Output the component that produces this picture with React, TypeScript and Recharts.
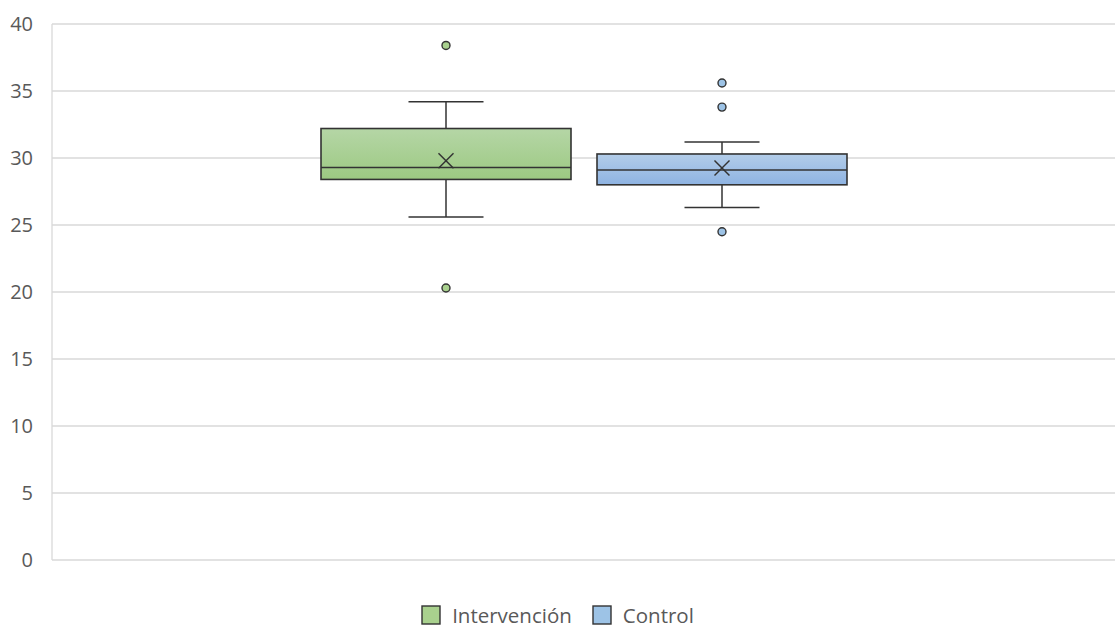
import React from 'react';
import { ComposedChart, Bar, XAxis, YAxis, CartesianGrid, Legend } from 'recharts';

const groups = ['Intervención', 'Control'];
const q1 = [28.4, 28.0];
const q3 = [32.2, 30.3];
const medians = [29.3, 29.1];
const means = [29.8, 29.25];
const whiskerLow = [25.6, 26.3];
const whiskerHigh = [34.2, 31.2];
const outliers = [
    [38.4, 20.3],
    [35.6, 33.8, 24.5],
];
const yTicks = [0, 5, 10, 15, 20, 25, 30, 35, 40];

const fills = ['url(#gradGreen)', 'url(#gradBlue)'];
const dotFills = ['#a9d18e', '#9dc3e6'];

// one category row, each group is a range bar q1..q3
const data = [
    groups.reduce((row: any, g, i) => {
        row[g] = [q1[i], q3[i]];
        return row;
    }, { name: '' }),
];

const font = '"Open Sans", sans-serif';
const dark = '#333333';

function BoxShape(props: any) {
    const { x, y, width, height, idx } = props;
    const top = Math.min(y, y + height);
    const h = Math.abs(height);
    const bottom = top + h;
    // pixels per unit, taken from the bar the library drew
    const k = h / (q3[idx] - q1[idx]);
    const py = (v: number) => bottom - (v - q1[idx]) * k;
    const cx = x + width / 2;
    const cap = width * 0.15;
    const m = 7.5;
    const my = py(means[idx]);
    return (
        <g>
            <line x1={cx} x2={cx} y1={py(whiskerHigh[idx])} y2={top} stroke={dark} strokeWidth={1.5} />
            <line x1={cx} x2={cx} y1={bottom} y2={py(whiskerLow[idx])} stroke={dark} strokeWidth={1.5} />
            <line x1={cx - cap} x2={cx + cap} y1={py(whiskerHigh[idx])} y2={py(whiskerHigh[idx])} stroke={dark} strokeWidth={1.5} />
            <line x1={cx - cap} x2={cx + cap} y1={py(whiskerLow[idx])} y2={py(whiskerLow[idx])} stroke={dark} strokeWidth={1.5} />
            <rect x={x} y={top} width={width} height={h} fill={fills[idx]} stroke={dark} strokeWidth={1.6} />
            <line x1={x} x2={x + width} y1={py(medians[idx])} y2={py(medians[idx])} stroke={dark} strokeWidth={1.5} />
            <line x1={cx - m} x2={cx + m} y1={my - m} y2={my + m} stroke={dark} strokeWidth={1.5} />
            <line x1={cx - m} x2={cx + m} y1={my + m} y2={my - m} stroke={dark} strokeWidth={1.5} />
            {outliers[idx].map((v, j) => (
                <circle key={j} cx={cx} cy={py(v)} r={4} fill={dotFills[idx]} stroke={dark} strokeWidth={1.4} />
            ))}
        </g>
    );
}

function LegendContent() {
    return (
        <div style={{ height: 68, display: 'flex', justifyContent: 'center', alignItems: 'flex-end', paddingBottom: 2, boxSizing: 'border-box' }}>
            {groups.map((g, i) => (
                <div key={g} style={{ display: 'flex', alignItems: 'center', marginLeft: i ? 20 : 0, height: 22 }}>
                    <svg width={20} height={20} style={{ marginRight: 11 }}>
                        <rect x={1} y={1} width={18} height={18} fill={dotFills[i]} stroke={dark} strokeWidth={1.4} />
                    </svg>
                    <div style={{ fontFamily: font, fontSize: 20.5, lineHeight: '22px', height: 22, color: '#595959' }}>{g}</div>
                </div>
            ))}
        </div>
    );
}

export default function App() {
    return (
        <div style={{ position: 'absolute', left: 0, top: 0, background: '#fff' }}>
            <ComposedChart width={1115} height={628} data={data} margin={{ top: 24, right: 0, left: 0, bottom: 0 }} barGap={26} barSize={250}>
                <defs>
                    <linearGradient id="gradGreen" x1="0" y1="0" x2="0" y2="1">
                        <stop offset="0%" stopColor="#b5d6a6" />
                        <stop offset="100%" stopColor="#9cc982" />
                    </linearGradient>
                    <linearGradient id="gradBlue" x1="0" y1="0" x2="0" y2="1">
                        <stop offset="0%" stopColor="#b3cde9" />
                        <stop offset="100%" stopColor="#8eb3e2" />
                    </linearGradient>
                </defs>
                <CartesianGrid vertical={false} stroke="#d9d9d9" strokeWidth={1.3} />
                <XAxis dataKey="name" hide />
                <YAxis
                    width={52}
                    domain={[0, 40]}
                    ticks={yTicks}
                    tickLine={false}
                    axisLine={{ stroke: '#d9d9d9', strokeWidth: 1.3 }}
                    tickMargin={13}
                    tick={{ fill: '#595959', fontSize: 20, fontFamily: font }}
                />
                <Legend verticalAlign="bottom" content={<LegendContent />} />
                {groups.map((g, i) => (
                    <Bar
                        key={g}
                        dataKey={g}
                        fill={dotFills[i]}
                        isAnimationActive={false}
                        shape={(p: any) => <BoxShape {...p} idx={i} />}
                    />
                ))}
            </ComposedChart>
        </div>
    );
}
